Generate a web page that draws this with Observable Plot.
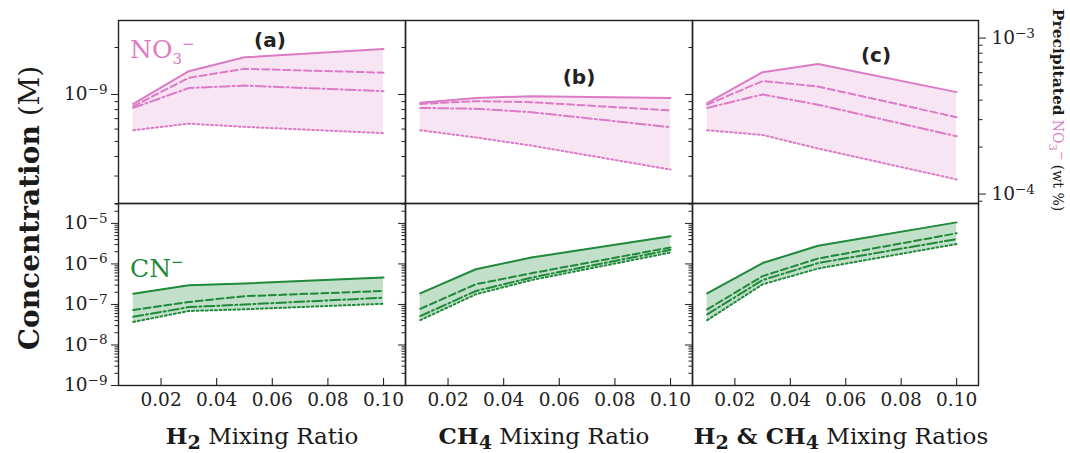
<!DOCTYPE html>
<html><head><meta charset="utf-8">
<script src="https://cdn.jsdelivr.net/npm/d3@7"></script>
<script src="https://cdn.jsdelivr.net/npm/@observablehq/plot@0.6"></script>
<style>
body{margin:0;background:#fff;}
#fig{position:relative;width:1070px;height:453px;overflow:hidden;font-family:"DejaVu Serif",serif;color:#1a1a1a;}
#fig svg{position:absolute;}
#fig svg text{font-family:"DejaVu Serif",serif !important;font-size:18.5px !important;fill:#222;}
.lab{position:absolute;white-space:nowrap;line-height:1;transform:translate(-50%,-50%);}
</style></head><body><div id="fig"></div>
<script>
// ---------------- data ----------------
const mixingRatio = [0.01, 0.03, 0.05, 0.10];
const panelNames = ["(a)", "(b)", "(c)"];
const xTitles = ["<b>H<sub>2</sub></b> Mixing Ratio", "<b>CH<sub>4</sub></b> Mixing Ratio", "<b>H<sub>2</sub> &amp; CH<sub>4</sub></b> Mixing Ratios"];
// NO3- concentration (M), one row per panel (a, b, c)
const no3Solid   = [[8.7e-10, 1.41e-9, 1.73e-9, 1.96e-9], [8.85e-10, 9.5e-10, 9.75e-10, 9.5e-10], [8.8e-10, 1.39e-9, 1.57e-9, 1.035e-9]];
const no3Dashed  = [[8.4e-10, 1.28e-9, 1.46e-9, 1.38e-9], [8.7e-10, 9.06e-10, 8.93e-10, 7.9e-10], [8.6e-10, 1.22e-9, 1.125e-9, 7.15e-10]];
const no3DashDot = [[8.2e-10, 1.10e-9, 1.14e-9, 1.05e-9], [8.2e-10, 8.1e-10, 7.7e-10, 6.17e-10], [8.2e-10, 1.0e-9, 8.6e-10, 5.4e-10]];
const no3Dotted  = [[5.9e-10, 6.5e-10, 6.2e-10, 5.65e-10], [5.9e-10, 5.3e-10, 4.7e-10, 3.3e-10], [5.9e-10, 5.5e-10, 4.5e-10, 2.85e-10]];
// CN- concentration (M)
const cnSolid   = [[1.84e-7, 2.97e-7, 3.3e-7, 4.6e-7], [1.88e-7, 7.4e-7, 1.44e-6, 4.8e-6], [1.88e-7, 1.05e-6, 2.8e-6, 1.06e-5]];
const cnDashed  = [[7.3e-8, 1.15e-7, 1.6e-7, 2.15e-7], [7.8e-8, 3.15e-7, 5.9e-7, 2.55e-6], [7.55e-8, 5.0e-7, 1.36e-6, 5.7e-6]];
const cnDashDot = [[4.95e-8, 8.6e-8, 1.0e-7, 1.47e-7], [5.15e-8, 2.15e-7, 4.6e-7, 2.23e-6], [5.7e-8, 4.0e-7, 1.05e-6, 4.1e-6]];
const cnDotted  = [[3.7e-8, 6.9e-8, 7.6e-8, 1.04e-7], [4.1e-8, 1.78e-7, 4.0e-7, 1.91e-6], [4.1e-8, 3.15e-7, 7.7e-7, 3.1e-6]];
// ticks
const xTicks = [0.02, 0.04, 0.06, 0.08, 0.10];
const topMajor = [1e-9];
const topMinor = [2e-10, 3e-10, 4e-10, 5e-10, 6e-10, 7e-10, 8e-10, 9e-10, 2e-9];
const botMajor = [1e-9, 1e-8, 1e-7, 1e-6, 1e-5];
const botMinor = [2e-9,3e-9,4e-9,5e-9,6e-9,7e-9,8e-9,9e-9, 2e-8,3e-8,4e-8,5e-8,6e-8,7e-8,8e-8,9e-8,
                  2e-7,3e-7,4e-7,5e-7,6e-7,7e-7,8e-7,9e-7, 2e-6,3e-6,4e-6,5e-6,6e-6,7e-6,8e-6,9e-6, 2e-5,3e-5];
const wtPerMolar = 4.35e5; // precipitated NO3- wt% per M (twin axis)
const wtMajor = [1e-4, 1e-3];
const wtMinor = [9e-5, 2e-4, 3e-4, 4e-4, 5e-4, 6e-4, 7e-4, 8e-4, 9e-4];

// ---------------- styling ----------------
const PINK = "#dc7bc5", GREEN = "#1f8a3a", INK = "#222";
const lineStyles = [
  {key: "solid", dash: null},
  {key: "dashed", dash: "7,3.5"},
  {key: "dashdot", dash: "10,3,2,3"},
  {key: "dotted", dash: "2,2.6"}
];
const panelLeft = [118, 405, 692], panelW = [287, 287, 286];
const M = 70;
const fig = document.getElementById("fig");
const pow = d => "10^" + Math.round(Math.log10(d));

function rowsFor(i, sets) {
  return mixingRatio.map((x, j) => ({
    x, solid: sets[0][i][j], dashed: sets[1][i][j], dashdot: sets[2][i][j], dotted: sets[3][i][j]
  }));
}

function supify(svg) {
  svg.querySelectorAll("text").forEach(t => {
    const m = /^10\^(-?\d+)$/.exec(t.textContent);
    if (!m) return;
    t.textContent = "10";
    const ts = document.createElementNS("http://www.w3.org/2000/svg", "tspan");
    ts.setAttribute("dy", "-0.48em");
    ts.setAttribute("style", "font-size:13.5px");
    ts.textContent = m[1].replace("-", "\u2212");
    t.appendChild(ts);
  });
}

function panel(i, top) {
  const sets = top ? [no3Solid, no3Dashed, no3DashDot, no3Dotted] : [cnSolid, cnDashed, cnDashDot, cnDotted];
  const color = top ? PINK : GREEN;
  const rows = rowsFor(i, sets);
  const panelH = top ? 183 : 182;
  const mTop = 10, mBot = top ? 10 : 35;
  const marks = [
    Plot.areaY(rows, {x: "x", y1: "dotted", y2: "solid", fill: color, fillOpacity: top ? 0.2 : 0.27}),
    ...lineStyles.map(s => Plot.line(rows, {x: "x", y: s.key, stroke: color, strokeWidth: 2, strokeDasharray: s.dash}))
  ];
  const major = top ? topMajor : botMajor, minor = top ? topMinor : botMinor;
  marks.push(Plot.axisY({ticks: minor, tickSize: 3.5, tickFormat: () => "", label: null, stroke: INK}));
  marks.push(Plot.axisY({ticks: major, tickSize: 7, tickPadding: 4, tickFormat: i === 0 ? pow : () => "",
    label: null, stroke: INK, fill: INK}));
  if (top && i === 2) {
    marks.push(Plot.axisY({anchor: "right", ticks: wtMinor.map(w => w / wtPerMolar), tickSize: 3.5, tickFormat: () => "", label: null, stroke: INK}));
    marks.push(Plot.axisY({anchor: "right", ticks: wtMajor.map(w => w / wtPerMolar), tickSize: 7, tickPadding: 6,
      tickFormat: d => pow(d * wtPerMolar), label: null, stroke: INK, fill: INK}));
  }
  if (!top) {
    marks.push(Plot.tickX(xTicks, {x: d => d, insetTop: panelH - 7, stroke: INK, strokeWidth: 1.1}));
    marks.push(Plot.axisX({ticks: xTicks, tickSize: 0, tickPadding: 7, tickFormat: d3.format(".2f"), label: null, fill: INK}));
  }
  marks.push(Plot.frame({stroke: INK, strokeWidth: 1.4}));
  const svg = Plot.plot({
    width: panelW[i] + 2 * M, height: mTop + panelH + mBot,
    marginLeft: M, marginRight: M, marginTop: mTop, marginBottom: mBot,
    x: {domain: [0.0047, 0.1079], axis: top ? null : undefined},
    y: {type: "log", domain: top ? [2e-10, 2.98e-9] : [1e-9, 3.1e-5]},
    style: {background: "transparent", overflow: "visible", fontFamily: "DejaVu Serif, serif", fontSize: "18.5px", color: INK},
    marks
  });
  supify(svg);
  svg.style.left = (panelLeft[i] - M) + "px";
  svg.style.top = (top ? 20 - mTop : 203 - mTop) + "px";
  fig.appendChild(svg);
}
for (let i = 0; i < 3; i++) { panel(i, true); panel(i, false); }

// ---------------- text overlays ----------------
function label(html, x, y, css) {
  const d = document.createElement("div");
  d.className = "lab";
  d.innerHTML = html;
  d.style.left = x + "px"; d.style.top = y + "px";
  Object.assign(d.style, css || {});
  fig.appendChild(d);
  return d;
}
const panelLabelPos = [[270, 40], [579, 77], [876, 55]];
panelNames.forEach((n, i) => label(n, panelLabelPos[i][0], panelLabelPos[i][1],
  {fontFamily: "DejaVu Sans, sans-serif", fontWeight: "bold", fontSize: "20px", color: "#222"}));
const titleX = [262, 544, 841];
xTitles.forEach((t, i) => label(t, titleX[i], 438, {fontSize: "23px"}));
label("<b>Concentration</b> (M)", 30, 208, {fontSize: "28px", transform: "translate(-50%,-50%) rotate(-90deg)"});
label('<b style="font-size:15.5px">Precipitated</b> <span style="color:' + PINK + ';font-size:14px">NO<sub>3</sub><sup>\u2212</sup></span> <span style="font-size:14px">(wt %)</span>', 1057, 110,
  {fontSize: "13px", transform: "translate(-50%,-50%) rotate(90deg)"});
const ion = (html, x, y, c) => { const d = label(html, x, y, {fontSize: "25px", color: c}); d.style.transform = "translate(0,-50%)"; };
ion("NO<sub style='font-size:0.6em'>3</sub><sup style='font-size:0.6em'>\u2212</sup>", 130, 52, PINK);
ion("CN<sup style='font-size:0.6em'>\u2212</sup>", 130, 268, GREEN);
</script></body></html>
